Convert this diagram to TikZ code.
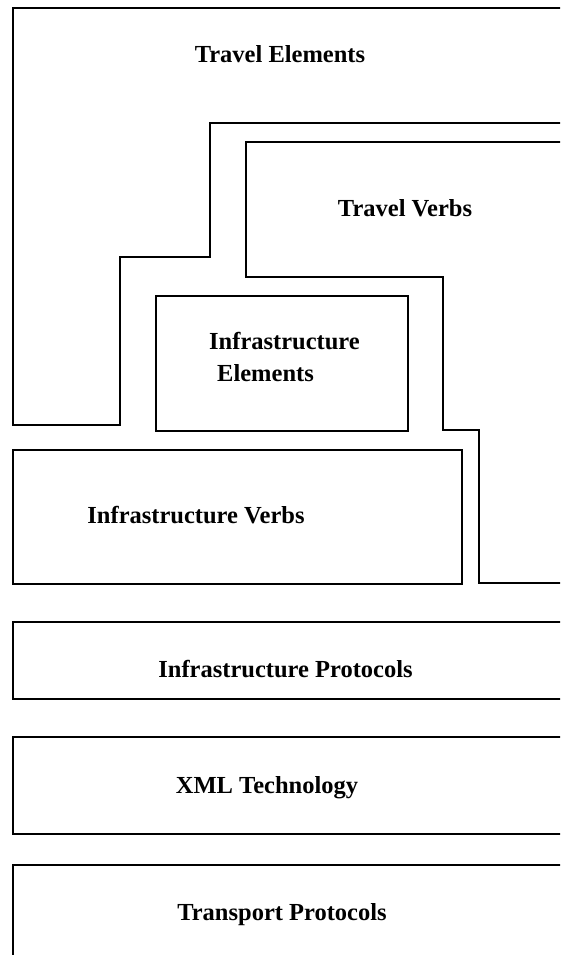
\documentclass[tikz,border=0pt]{standalone}
\usepackage{fontspec}
\setmainfont{Liberation Serif}
\begin{document}
\begin{tikzpicture}[x=1pt,y=-1pt,
  outline/.style={draw=black,line width=1.1pt,line join=miter},
  label/.style={font=\fontsize{24.5}{28}\selectfont\bfseries,inner sep=0pt}]
\clip (0,0) rectangle (560,955);
\fill[white] (0,0) rectangle (560,955);

% Travel Elements region
\draw[outline] (565,8) -- (13,8) -- (13,425) -- (120,425) -- (120,257)
  -- (210,257) -- (210,123) -- (565,123);
% Travel Verbs region
\draw[outline] (565,142) -- (246,142) -- (246,277) -- (443,277) -- (443,430)
  -- (479,430) -- (479,583) -- (565,583);
% Infrastructure Elements
\draw[outline] (156,296) rectangle (408,431);
% Infrastructure Verbs
\draw[outline] (13,450) rectangle (462,584);
% Infrastructure Protocols
\draw[outline] (565,622) -- (13,622) -- (13,699) -- (565,699);
% XML Technology
\draw[outline] (565,737) -- (13,737) -- (13,834) -- (565,834);
% Transport Protocols
\draw[outline] (565,865) -- (13,865) -- (13,960);

\node[label,anchor=base] (te) at (280,63) {Travel Elements};
\node[label,anchor=base] (tv) at (405,216) {Travel Verbs};
\node[label,anchor=base west] (ie1) at (209,349) {Infrastructure};
\node[label,anchor=base west] (ie2) at (217,381) {Elements};
\node[label,anchor=base] (iv) at (196,523) {Infrastructure Verbs};
\node[label,anchor=base] (ip) at (285.5,677) {Infrastructure Protocols};
\node[label,anchor=base] (xml) at (267,793) {XML Technology};
\node[label,anchor=base] (tp) at (282,920) {Transport Protocols};
\end{tikzpicture}
\end{document}
